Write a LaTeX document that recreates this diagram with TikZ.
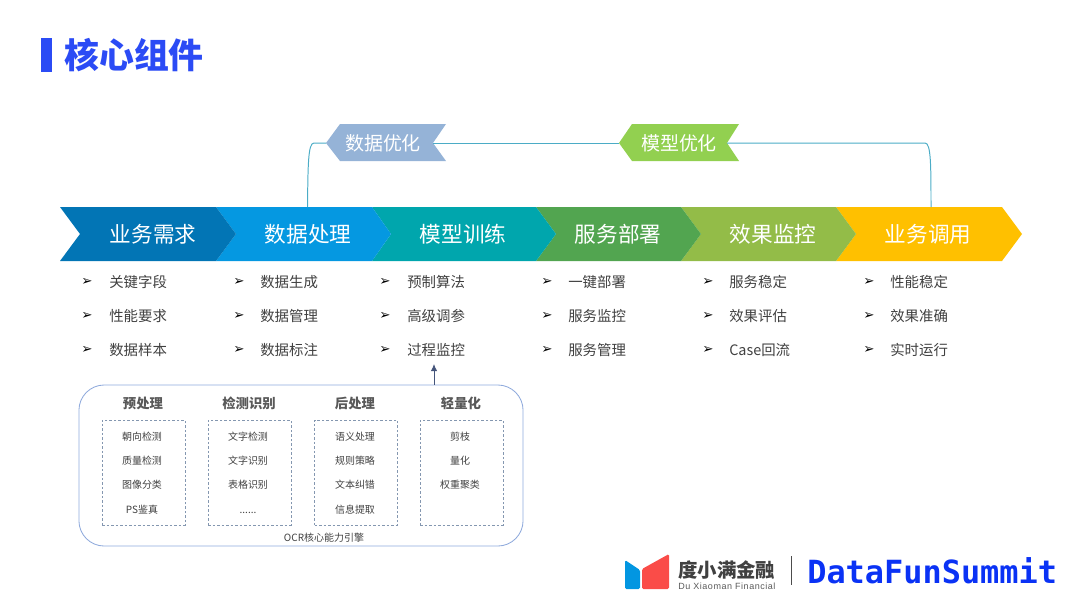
\documentclass[tikz,border=0pt]{standalone}
\usepackage{fontspec}
\usetikzlibrary{arrows.meta}
\setmainfont{Noto Sans CJK SC}
\newfontfamily\bulletfont{DejaVu Sans}
\newfontfamily\summitfont{DejaVu Sans Mono}
\newfontfamily\logofont[LetterSpace=6]{Liberation Sans}
\definecolor{titleblue}{HTML}{2B4BF5}
\definecolor{listgray}{HTML}{404040}
\definecolor{headgray}{HTML}{595959}
\definecolor{loopline}{HTML}{4BACC6}
\definecolor{engineline}{HTML}{8FAADC}
\definecolor{dashline}{HTML}{8497B0}
\definecolor{arrowslate}{HTML}{44547A}
\tikzset{
	stagetext/.style={text=white,inner sep=0pt,text height=13pt,text depth=2pt,font=\fontsize{15.4}{18}\selectfont},
	tagtext/.style={text=white,inner sep=0pt,text height=11.5pt,text depth=2pt,font=\fontsize{13.5}{16}\selectfont},
	itemtext/.style={anchor=west,text=listgray,inner sep=0pt,text height=8.7pt,text depth=1.5pt,font=\fontsize{10.25}{12}\selectfont},
	bulletmark/.style={text=black,inner sep=0pt,font=\bulletfont\fontsize{9.5}{12}\selectfont},
	headtext/.style={text=headgray,inner sep=0pt,text height=8pt,text depth=1.4pt,font=\fontsize{9.5}{11}\bfseries\selectfont},
	smalltext/.style={text=listgray,inner sep=0pt,text height=6pt,text depth=1pt,font=\fontsize{7.1}{9}\selectfont},
	enginebox/.style={draw=engineline,line width=0.6pt,rounded corners=18pt,minimum width=11.1cm,minimum height=4.025cm,inner sep=0pt},
	groupbox/.style={draw=dashline,dash pattern=on 1.8pt off 1.4pt,line width=0.5pt,minimum width=2.07cm,minimum height=2.625cm,inner sep=0pt},
	loopconn/.style={draw=loopline,line width=0.7pt}
}
\begin{document}
\begin{tikzpicture}[x=0.025cm,y=-0.025cm]
	\useasboundingbox (0,0) rectangle (1080,608);
	% title
	\fill[titleblue] (41,38) rectangle (52,72);
	\node[text=titleblue,inner sep=0pt,anchor=west,font=\fontsize{24.8}{28}\bfseries\selectfont] (title) at (64,55) {核心组件};
	% stages, last one first
	\fill[fill={rgb,255:red,255;green,192;blue,0}] (836,207) -- (1002,207) -- (1022,234) -- (1002,261) -- (836,261) -- (856,234) -- cycle;
	\fill[fill={rgb,255:red,147;green,188;blue,72}] (681,207) -- (836,207) -- (856,234) -- (836,261) -- (681,261) -- (701,234) -- cycle;
	\fill[fill={rgb,255:red,82;green,165;blue,80}] (536,207) -- (681,207) -- (701,234) -- (681,261) -- (536,261) -- (556,234) -- cycle;
	\fill[fill={rgb,255:red,0;green,166;blue,173}] (372,207) -- (536,207) -- (556,234) -- (536,261) -- (372,261) -- (391,234) -- cycle;
	\fill[fill={rgb,255:red,5;green,152;blue,225}] (216,207) -- (372,207) -- (391,234) -- (372,261) -- (216,261) -- (236,234) -- cycle;
	\fill[fill={rgb,255:red,2;green,117;blue,181}] (60,207) -- (216,207) -- (236,234) -- (216,261) -- (60,261) -- (80,234) -- cycle;
	\node[stagetext] (demand) at (153,234.5) {业务需求};
	\node[stagetext] (dataproc) at (308,234.5) {数据处理};
	\node[stagetext] (training) at (463,234.5) {模型训练};
	\node[stagetext] (deploy) at (618,234.5) {服务部署};
	\node[stagetext] (monitor) at (773,234.5) {效果监控};
	\node[stagetext] (invoke) at (928,234.5) {业务调用};
	% optimisation tags
	\fill[fill={rgb,255:red,149;green,179;blue,215}] (326,143) -- (340,124) -- (446,124) -- (433,143) -- (446,161) -- (340,161) -- cycle;
	\fill[fill={rgb,255:red,146;green,208;blue,80}] (619,143) -- (632,124) -- (739,124) -- (727,143) -- (739,161) -- (632,161) -- cycle;
	\node[tagtext] (dataopt) at (383,143.5) {数据优化};
	\node[tagtext] (modelopt) at (679,143.5) {模型优化};
	\coordinate (dataleave) at (307.5,207);
	\coordinate (datatip) at (326,143);
	\coordinate (datanotch) at (433,143);
	\coordinate (modeltip) at (619,143);
	\coordinate (modelnotch) at (727,143);
	\coordinate (invokeleave) at (931,207);
	\draw[loopconn] (dataleave) .. controls (308,165) and (308,143) .. (314,143) -- (datatip);
	\draw[loopconn] (datanotch) -- (modeltip);
	\draw[loopconn] (modelnotch) -- (925,143) .. controls (931,143) and (931,165) .. (invokeleave);
	% lists
	\node[bulletmark] (bulleta) at (87,282) {➢};
	\node[bulletmark] (bulletb) at (87,316) {➢};
	\node[bulletmark] (bulletc) at (87,350) {➢};
	\node[itemtext] (itema) at (109,282) {关键字段};
	\node[itemtext] (itemb) at (109,316) {性能要求};
	\node[itemtext] (itemc) at (109,350) {数据样本};
	\node[bulletmark] (bulletd) at (239,282) {➢};
	\node[bulletmark] (bullete) at (239,316) {➢};
	\node[bulletmark] (bulletf) at (239,350) {➢};
	\node[itemtext] (itemd) at (260,282) {数据生成};
	\node[itemtext] (iteme) at (260,316) {数据管理};
	\node[itemtext] (itemf) at (260,350) {数据标注};
	\node[bulletmark] (bulletg) at (385,282) {➢};
	\node[bulletmark] (bulleth) at (385,316) {➢};
	\node[bulletmark] (bulleti) at (385,350) {➢};
	\node[itemtext] (itemg) at (407,282) {预制算法};
	\node[itemtext] (itemh) at (407,316) {高级调参};
	\node[itemtext] (itemi) at (407,350) {过程监控};
	\node[bulletmark] (bulletj) at (547,282) {➢};
	\node[bulletmark] (bulletk) at (547,316) {➢};
	\node[bulletmark] (bulletl) at (547,350) {➢};
	\node[itemtext] (itemj) at (568,282) {一键部署};
	\node[itemtext] (itemk) at (568,316) {服务监控};
	\node[itemtext] (iteml) at (568,350) {服务管理};
	\node[bulletmark] (bulletm) at (708,282) {➢};
	\node[bulletmark] (bulletn) at (708,316) {➢};
	\node[bulletmark] (bulleto) at (708,350) {➢};
	\node[itemtext] (itemm) at (729,282) {服务稳定};
	\node[itemtext] (itemn) at (729,316) {效果评估};
	\node[itemtext] (itemo) at (729,350) {Case回流};
	\node[bulletmark] (bulletp) at (869,282) {➢};
	\node[bulletmark] (bulletq) at (869,316) {➢};
	\node[bulletmark] (bulletr) at (869,350) {➢};
	\node[itemtext] (itemp) at (890,282) {性能稳定};
	\node[itemtext] (itemq) at (890,316) {效果准确};
	\node[itemtext] (itemr) at (890,350) {实时运行};
	% engine
	\node[enginebox] (ocrbox) at (301,465.5) {};
	\coordinate (arrowhead) at (434,364);
	\draw[-{Latex[length=5pt,width=4.5pt]},draw=arrowslate,fill=arrowslate,line width=0.6pt] (ocrbox.north -| arrowhead) -- (arrowhead);
	\node[groupbox] (prebox) at (143.5,472.5) {};
	\node[groupbox] (detbox) at (249.5,472.5) {};
	\node[groupbox] (postbox) at (356,472.5) {};
	\node[groupbox] (slimbox) at (461.5,472.5) {};
	\node[headtext] (prehead) at (143,404) {预处理};
	\node[headtext] (dethead) at (249,404) {检测识别};
	\node[headtext] (posthead) at (355,404) {后处理};
	\node[headtext] (slimhead) at (461,404) {轻量化};
	\node[smalltext] (prea) at (142,437) {朝向检测};
	\node[smalltext] (preb) at (142,461) {质量检测};
	\node[smalltext] (prec) at (142,485) {图像分类};
	\node[smalltext] (pred) at (142,510) {PS鉴真};
	\node[smalltext] (deta) at (248,437) {文字检测};
	\node[smalltext] (detb) at (248,461) {文字识别};
	\node[smalltext] (detc) at (248,485) {表格识别};
	\node[smalltext] (detd) at (248,510) {......};
	\node[smalltext] (posta) at (355,437) {语义处理};
	\node[smalltext] (postb) at (355,461) {规则策略};
	\node[smalltext] (postc) at (355,485) {文本纠错};
	\node[smalltext] (postd) at (355,510) {信息提取};
	\node[smalltext] (slima) at (460,437) {剪枝};
	\node[smalltext] (slimb) at (460,461) {量化};
	\node[smalltext] (slimc) at (460,485) {权重聚类};
	\node[smalltext] (ocrname) at (324,538) {OCR核心能力引擎};
	% logo
	\fill[fill={rgb,255:red,2;green,150;blue,225},rounded corners=1pt] (625,560) -- (640,570) -- (640,589) -- (625,589) -- cycle;
	\fill[fill={rgb,255:red,250;green,76;blue,72},rounded corners=1pt] (642,569) -- (669,554) -- (669,589) -- (642,589) -- cycle;
	\node[text=black!75,inner sep=0pt,anchor=west,font=\fontsize{13.8}{16}\bfseries\selectfont] (logoname) at (678,570) {度小满金融};
	\node[text=black!65,inner sep=0pt,anchor=west,font=\logofont\fontsize{6.4}{8}\selectfont] (logosub) at (678,586) {Du Xiaoman Financial};
	\draw[black!70,line width=0.7pt] (791,556) -- (791,585);
	\node[text={rgb,255:red,10;green,50;blue,245},inner sep=0pt,anchor=west,font=\summitfont\fontsize{22.7}{26}\bfseries\selectfont] (summit) at (807,571) {DataFunSummit};
\end{tikzpicture}
\end{document}
